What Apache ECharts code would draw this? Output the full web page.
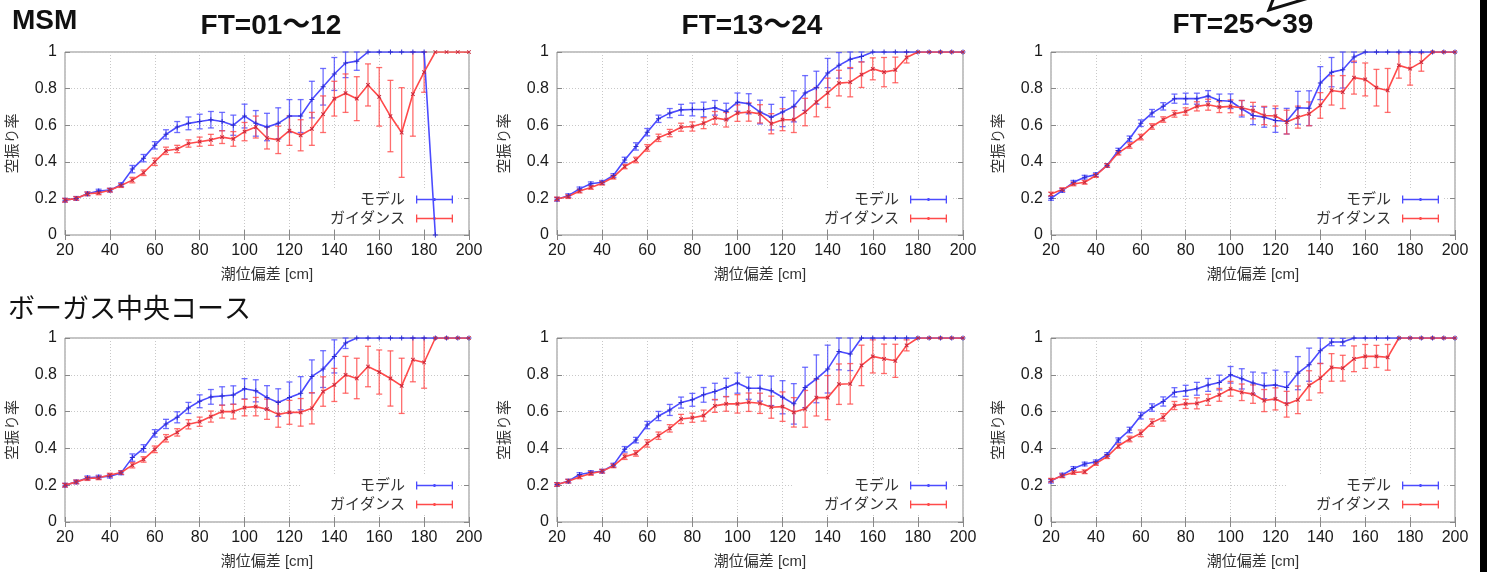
<!DOCTYPE html>
<html><head><meta charset="utf-8">
<script src="https://cdn.jsdelivr.net/npm/echarts@6/dist/echarts.min.js"></script>
<style>html,body{margin:0;padding:0;background:#fff}#c{width:1487px;height:572px}</style>
</head><body><div id="c"></div>
<script>
const X = [20,25,30,35,40,45,50,55,60,65,70,75,80,85,90,95,100,105,110,115,120,125,130,135,140,145,150,155,160,165,170,175,180,185,190,195,200];
const xTicks = [20,40,60,80,100,120,140,160,180,200];
const yTicks = [0,0.2,0.4,0.6,0.8,1];
const panelTitles = ['FT=01〜12','FT=13〜24','FT=25〜39'];
const rowTitles = ['MSM','ボーガス中央コース'];
const seriesNames = ['モデル','ガイダンス'];
const xName = '潮位偏差 [cm]';
const yName = '空振り率';

const p1Model = [0.19,0.20,0.225,0.24,0.245,0.275,0.36,0.42,0.49,0.55,0.59,0.61,0.62,0.63,0.62,0.60,0.65,0.61,0.59,0.61,0.65,0.65,0.74,0.81,0.88,0.94,0.95,1,1,1,1,1,1,0,null,null,null];
const p1ModelErr = [0.01,0.01,0.01,0.01,0.01,0.01,0.02,0.02,0.02,0.025,0.03,0.035,0.04,0.045,0.05,0.055,0.065,0.07,0.075,0.085,0.09,0.09,0.1,0.1,0.09,0.08,0.05,0,0,0,0,0,0,0,null,null,null];
const p1Guide = [0.19,0.20,0.225,0.23,0.245,0.27,0.30,0.34,0.40,0.46,0.47,0.50,0.51,0.52,0.535,0.525,0.565,0.59,0.53,0.52,0.57,0.545,0.58,0.66,0.745,0.775,0.745,0.82,0.755,0.65,0.56,0.77,0.89,1,1,1,1];
const p1GuideErr = [0.01,0.01,0.01,0.01,0.01,0.01,0.015,0.015,0.02,0.02,0.02,0.02,0.025,0.03,0.035,0.04,0.05,0.06,0.06,0.075,0.08,0.085,0.09,0.1,0.095,0.105,0.12,0.115,0.16,0.195,0.245,0.23,0.11,0,0,0,0];

const p2Model = [0.195,0.215,0.252,0.28,0.288,0.325,0.41,0.484,0.562,0.635,0.666,0.684,0.686,0.686,0.695,0.675,0.726,0.717,0.672,0.644,0.672,0.703,0.776,0.805,0.885,0.927,0.96,0.976,1,1,1,1,1,1,1,1,1];
const p2ModelErr = [0.01,0.01,0.01,0.01,0.01,0.01,0.015,0.02,0.02,0.02,0.025,0.03,0.035,0.04,0.04,0.045,0.05,0.055,0.065,0.07,0.08,0.085,0.095,0.09,0.08,0.07,0.05,0.03,0,0,0,0,0,0,0,0,0];
const p2Guide = [0.197,0.21,0.24,0.26,0.283,0.316,0.374,0.41,0.476,0.531,0.557,0.589,0.593,0.611,0.64,0.63,0.666,0.672,0.662,0.608,0.63,0.63,0.672,0.726,0.777,0.83,0.835,0.876,0.908,0.89,0.902,0.97,1,1,1,1,1];
const p2GuideErr = [0.01,0.01,0.01,0.01,0.01,0.01,0.012,0.015,0.018,0.02,0.02,0.022,0.025,0.03,0.035,0.04,0.045,0.05,0.05,0.055,0.06,0.07,0.075,0.08,0.08,0.07,0.08,0.07,0.06,0.08,0.07,0.03,0,0,0,0,0];

const p3Model = [0.20,0.243,0.288,0.316,0.33,0.38,0.462,0.526,0.611,0.666,0.703,0.745,0.745,0.745,0.759,0.735,0.731,0.69,0.653,0.644,0.626,0.622,0.695,0.693,0.83,0.89,0.903,0.973,1,1,1,1,1,1,1,1,1];
const p3ModelErr = [0.01,0.01,0.01,0.01,0.01,0.01,0.012,0.015,0.018,0.02,0.02,0.025,0.03,0.03,0.03,0.035,0.04,0.045,0.05,0.055,0.065,0.07,0.09,0.095,0.09,0.08,0.1,0.03,0,0,0,0,0,0,0,0,0];
const p3Guide = [0.224,0.248,0.279,0.288,0.325,0.38,0.449,0.489,0.535,0.593,0.631,0.662,0.675,0.703,0.712,0.699,0.703,0.695,0.68,0.653,0.65,0.617,0.644,0.662,0.708,0.79,0.781,0.86,0.85,0.805,0.79,0.927,0.909,0.945,1,1,1];
const p3GuideErr = [0.01,0.01,0.01,0.01,0.01,0.01,0.012,0.015,0.015,0.015,0.015,0.018,0.02,0.025,0.03,0.03,0.035,0.04,0.045,0.05,0.055,0.065,0.06,0.065,0.07,0.08,0.09,0.09,0.09,0.1,0.12,0.07,0.09,0.05,0,0,0];

const p4Model = [0.20,0.218,0.24,0.244,0.249,0.267,0.35,0.40,0.482,0.533,0.569,0.62,0.656,0.68,0.685,0.69,0.724,0.713,0.676,0.649,0.676,0.70,0.791,0.831,0.90,0.973,1,1,1,1,1,1,1,1,1,1,1];
const p4ModelErr = [0.01,0.01,0.01,0.01,0.01,0.01,0.02,0.02,0.02,0.025,0.03,0.03,0.035,0.04,0.05,0.05,0.055,0.06,0.065,0.075,0.085,0.09,0.09,0.1,0.09,0.03,0,0,0,0,0,0,0,0,0,0,0];
const p4Guide = [0.20,0.218,0.236,0.24,0.255,0.269,0.309,0.34,0.395,0.455,0.487,0.531,0.545,0.573,0.60,0.60,0.622,0.627,0.613,0.585,0.596,0.596,0.618,0.709,0.745,0.80,0.78,0.845,0.815,0.78,0.74,0.882,0.867,1,1,1,1];
const p4GuideErr = [0.01,0.01,0.01,0.01,0.01,0.01,0.015,0.015,0.018,0.02,0.02,0.025,0.025,0.03,0.035,0.04,0.045,0.05,0.055,0.07,0.065,0.075,0.085,0.08,0.09,0.1,0.11,0.11,0.12,0.15,0.15,0.12,0.14,0,0,0,0];

const p5Model = [0.204,0.222,0.258,0.269,0.276,0.309,0.395,0.445,0.527,0.576,0.609,0.649,0.664,0.691,0.709,0.731,0.755,0.727,0.727,0.713,0.678,0.642,0.731,0.778,0.831,0.927,0.913,1,1,1,1,1,1,1,1,1,1];
const p5ModelErr = [0.01,0.01,0.01,0.01,0.01,0.01,0.015,0.015,0.02,0.025,0.03,0.03,0.035,0.04,0.045,0.05,0.055,0.06,0.07,0.08,0.09,0.11,0.11,0.13,0.13,0.1,0.09,0,0,0,0,0,0,0,0,0,0];
const p5Guide = [0.204,0.222,0.245,0.264,0.276,0.305,0.355,0.373,0.427,0.469,0.509,0.56,0.567,0.578,0.631,0.642,0.642,0.651,0.645,0.624,0.627,0.596,0.615,0.676,0.676,0.749,0.751,0.851,0.90,0.887,0.876,0.96,1,1,1,1,1];
const p5GuideErr = [0.01,0.01,0.01,0.01,0.01,0.01,0.015,0.015,0.02,0.02,0.02,0.025,0.025,0.03,0.035,0.04,0.05,0.05,0.055,0.06,0.08,0.08,0.1,0.1,0.12,0.11,0.11,0.11,0.09,0.08,0.09,0.03,0,0,0,0,0];

const p6Model = [0.222,0.255,0.291,0.315,0.327,0.367,0.445,0.50,0.578,0.622,0.655,0.705,0.713,0.724,0.745,0.758,0.80,0.778,0.755,0.74,0.745,0.731,0.809,0.855,0.931,0.978,0.978,1,1,1,1,1,1,1,1,1,1];
const p6ModelErr = [0.01,0.01,0.01,0.01,0.01,0.01,0.012,0.015,0.018,0.02,0.025,0.025,0.03,0.035,0.035,0.04,0.045,0.055,0.06,0.07,0.08,0.085,0.09,0.09,0.07,0.02,0.02,0,0,0,0,0,0,0,0,0,0];
const p6Guide = [0.227,0.251,0.269,0.273,0.318,0.355,0.413,0.451,0.482,0.54,0.569,0.633,0.642,0.645,0.664,0.691,0.724,0.705,0.695,0.66,0.669,0.64,0.664,0.742,0.782,0.84,0.836,0.887,0.90,0.90,0.895,1,1,1,1,1,1];
const p6GuideErr = [0.01,0.01,0.01,0.01,0.01,0.01,0.012,0.015,0.018,0.02,0.02,0.022,0.025,0.03,0.03,0.035,0.04,0.045,0.05,0.06,0.06,0.07,0.075,0.08,0.08,0.075,0.07,0.07,0.065,0.06,0.07,0,0,0,0,0,0];

const panels = [
  {model:p1Model, modelErr:p1ModelErr, guide:p1Guide, guideErr:p1GuideErr},
  {model:p2Model, modelErr:p2ModelErr, guide:p2Guide, guideErr:p2GuideErr},
  {model:p3Model, modelErr:p3ModelErr, guide:p3Guide, guideErr:p3GuideErr},
  {model:p4Model, modelErr:p4ModelErr, guide:p4Guide, guideErr:p4GuideErr},
  {model:p5Model, modelErr:p5ModelErr, guide:p5Guide, guideErr:p5GuideErr},
  {model:p6Model, modelErr:p6ModelErr, guide:p6Guide, guideErr:p6GuideErr}
];

// layout
const FONT = "'Liberation Sans', 'Noto Sans CJK JP', sans-serif";
const colL = [65, 557, 1051];
const colW = [404, 406, 404];
const rowT = [52, 338];
const rowH = [183, 184];
const BLUE = '#4b4bff', RED = '#ff4a4a';
const BLUE_ERR = 'rgba(75,75,255,0.8)', RED_ERR = 'rgba(255,74,74,0.8)';

const grids = [], xAxes = [], yAxes = [], series = [], legends = [];
const tickStyle = {show:true, inside:true, length:5, lineStyle:{color:'#888', width:1}};

function errData(xs, v, e) {
  const out = [];
  for (let i = 0; i < xs.length; i++) {
    if (v[i] == null || e[i] == null || e[i] === 0) continue;
    out.push([xs[i], Math.max(0, v[i] - e[i]), Math.min(1, v[i] + e[i])]);
  }
  return out;
}
function errSeries(idx, data, color) {
  return {
    type:'custom', xAxisIndex:idx, yAxisIndex:idx, z:2, silent:true,
    data:data, encode:{x:0, y:[1,2]},
    renderItem: function(params, api) {
      const x = api.value(0), lo = api.value(1), hi = api.value(2);
      const a = api.coord([x, lo]), b = api.coord([x, hi]);
      const st = {stroke:color, lineWidth:1.3};
      const c = 3;
      return {type:'group', children:[
        {type:'line', shape:{x1:a[0], y1:a[1], x2:b[0], y2:b[1]}, style:st},
        {type:'line', shape:{x1:a[0]-c, y1:a[1], x2:a[0]+c, y2:a[1]}, style:st},
        {type:'line', shape:{x1:b[0]-c, y1:b[1], x2:b[0]+c, y2:b[1]}, style:st}
      ]};
    }
  };
}
const plusPath = 'path://M4,0h2v10h-2z M0,4h10v2h-10z';
const legendIcon = 'path://M0,3.3h37v1.4h-37z M0,0h1.3v8h-1.3z M35.7,0h1.3v8h-1.3z M17.5,2.5h2v3h-2z';

for (let i = 0; i < 6; i++) {
  const r = Math.floor(i / 3), c = i % 3;
  const left = colL[c], top = rowT[r], w = colW[c], h = rowH[r];
  grids.push({left:left, top:top, width:w, height:h, show:true, borderColor:'#8a8a8a', borderWidth:1, backgroundColor:'#fff', containLabel:false});
  xAxes.push({
    type:'value', gridIndex:i, min:20, max:200, interval:20, position:'bottom',
    name:xName, nameLocation:'middle', nameGap:32,
    nameTextStyle:{fontSize:15, color:'#333', fontFamily:FONT},
    axisLine:{show:false}, axisTick:tickStyle,
    axisLabel:{fontSize:16, color:'#1a1a1a', margin:8, fontFamily:FONT, showMinLabel:true, showMaxLabel:true},
    splitLine:{show:true, lineStyle:{color:'#c8c8c8', type:[1,2], width:1}}
  });
  yAxes.push({
    type:'value', gridIndex:i, min:0, max:1, interval:0.2, position:'left',
    name:yName, nameLocation:'middle', nameGap:45, nameRotate:90,
    nameTextStyle:{fontSize:15, color:'#333', fontFamily:FONT},
    axisLine:{show:false}, axisTick:tickStyle,
    axisLabel:{fontSize:16, color:'#1a1a1a', margin:8, fontFamily:FONT},
    splitLine:{show:true, lineStyle:{color:'#c8c8c8', type:[1,2], width:1}}
  });
  const p = panels[i];
  series.push(errSeries(i, errData(X, p.model, p.modelErr), BLUE_ERR));
  series.push({
    name:seriesNames[0], type:'line', xAxisIndex:i, yAxisIndex:i, z:3,
    data:X.map((x, k) => [x, p.model[k]]),
    connectNulls:false, symbol:plusPath, symbolSize:5, showSymbol:true,
    lineStyle:{color:BLUE, width:1.6}, itemStyle:{color:'#2b2bd0'}, color:BLUE,
    animation:false
  });
  series.push(errSeries(i, errData(X, p.guide, p.guideErr), RED_ERR));
  series.push({
    name:seriesNames[1], type:'line', xAxisIndex:i, yAxisIndex:i, z:3,
    data:X.map((x, k) => [x, p.guide[k]]),
    symbol:plusPath, symbolRotate:45, symbolSize:5,
    lineStyle:{color:RED, width:1.6}, itemStyle:{color:'#c8283c'}, color:RED,
    animation:false
  });
  legends.push({
    orient:'vertical', align:'right', z:1,
    right: 1487 - (left + w) + 12, top: top + 137,
    itemWidth:37, itemHeight:8, itemGap:4,
    backgroundColor:'#fff', padding:[3, 4, 3, 30],
    icon:legendIcon, selectedMode:false,
    textStyle:{fontSize:15, color:'#333', fontFamily:FONT, padding:[0,6,0,0]},
    data:[{name:seriesNames[0], itemStyle:{color:BLUE}}, {name:seriesNames[1], itemStyle:{color:RED}}]
  });
}
// mirror axes (ticks on top / right borders)
for (let i = 0; i < 6; i++) {
  xAxes.push({type:'value', gridIndex:i, min:20, max:200, interval:20, position:'top',
    axisLine:{show:false}, axisTick:tickStyle, axisLabel:{show:false}, splitLine:{show:false}});
  yAxes.push({type:'value', gridIndex:i, min:0, max:1, interval:0.2, position:'right',
    axisLine:{show:false}, axisTick:tickStyle, axisLabel:{show:false}, splitLine:{show:false}});
}

const titleFont = {fontSize:28, fontWeight:'bold', fontFamily:FONT, fill:'#111'};
const graphics = [
  {type:'text', left:12, top:7, style:Object.assign({text:rowTitles[0]}, titleFont)},
  {type:'text', x:271, y:26, style:Object.assign({text:panelTitles[0], textAlign:'center', textVerticalAlign:'middle'}, titleFont)},
  {type:'text', x:752, y:26, style:Object.assign({text:panelTitles[1], textAlign:'center', textVerticalAlign:'middle'}, titleFont)},
  {type:'text', x:1243, y:25, style:Object.assign({text:panelTitles[2], textAlign:'center', textVerticalAlign:'middle'}, titleFont)},
  {type:'text', x:8, y:308, style:{text:rowTitles[1], fontSize:27, fontFamily:"'Noto Sans CJK JP', sans-serif", fill:'#111', textVerticalAlign:'middle'}},
  {type:'polyline', shape:{points:[[1274,-3],[1269,10],[1312,-3]]}, style:{stroke:'#111', lineWidth:3, fill:null}},
  {type:'rect', shape:{x:1480, y:0, width:7, height:572}, style:{fill:'#000'}}
];

const chart = echarts.init(document.getElementById('c'), null, {renderer:'canvas'});
chart.setOption({
  animation:false,
  backgroundColor:'#fff',
  grid:grids, xAxis:xAxes, yAxis:yAxes, series:series, legend:legends,
  graphic:graphics
});
</script></body></html>
